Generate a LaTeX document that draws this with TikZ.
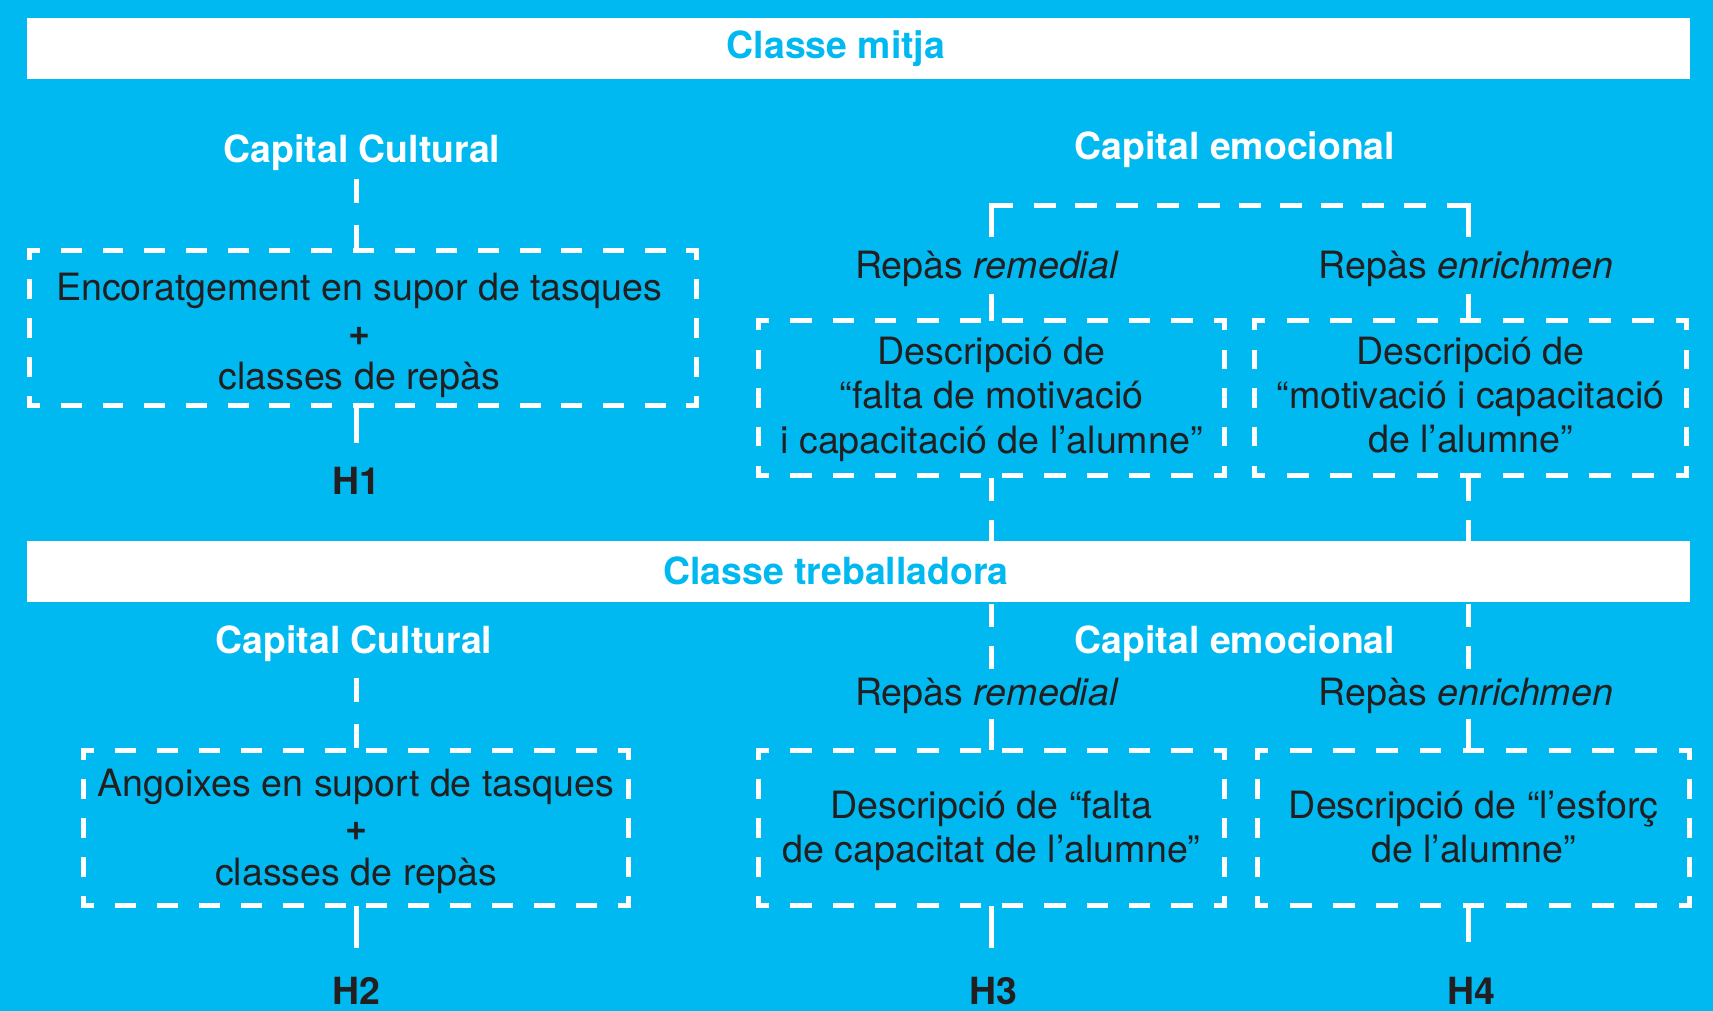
\documentclass[tikz,border=0pt]{standalone}
\usepackage{fontspec}
\setmainfont{TeX Gyre Heros}
\usetikzlibrary{calc}
\definecolor{bgcyan}{RGB}{0,185,241}
\definecolor{ink}{RGB}{35,31,32}
\newcommand\dashedframe[1]{%
  \pgfpointanchor{#1}{south west}\pgfgetlastxy{\dfxa}{\dfya}%
  \pgfpointanchor{#1}{north east}\pgfgetlastxy{\dfxb}{\dfyb}%
  \pgfmathsetmacro\dfw{\dfxb-\dfxa}%
  \pgfmathsetmacro\dfh{\dfyb-\dfya}%
  \pgfmathsetmacro\dfpw{\dfw/max(1,round(\dfw/20.8))}%
  \pgfmathsetmacro\dfph{\dfh/max(1,round(\dfh/20.8))}%
  \pgfmathsetmacro\dfonw{\dfpw/2-2.5}\pgfmathsetmacro\dfoffw{\dfpw/2+2.5}\pgfmathsetmacro\dfphw{\dfpw/4-1.25}%
  \pgfmathsetmacro\dfonh{\dfph/2-2.5}\pgfmathsetmacro\dfoffh{\dfph/2+2.5}\pgfmathsetmacro\dfphh{\dfph/4-1.25}%
  \draw[frameline, dash pattern=on \dfonw pt off \dfoffw pt, dash phase=\dfphw pt]
    (\dfxa,\dfyb) -- (\dfxb,\dfyb) (\dfxa,\dfya) -- (\dfxb,\dfya);
  \draw[frameline, dash pattern=on \dfonh pt off \dfoffh pt, dash phase=\dfphh pt]
    (\dfxa,\dfya) -- (\dfxa,\dfyb) (\dfxb,\dfya) -- (\dfxb,\dfyb);
}
\tikzset{
  headlab/.style={font=\fontsize{18.7}{22}\selectfont\bfseries, text=white, inner sep=0pt, text height=14pt, text depth=4.1pt},
  hyplab/.style={headlab, text=ink},
  barlab/.style={headlab, text=bgcyan},
  replab/.style={font=\fontsize{18.8}{22}\selectfont, text=ink, inner sep=0pt, text height=14pt, text depth=4.1pt},
  boxframe/.style={inner sep=0pt},
  boxtext/.style={inner sep=0pt, align=center, font=\fontsize{18.8}{22.2}\selectfont, text=ink},
  bar/.style={fill=white, inner sep=0pt, minimum width=831.5pt, minimum height=30.6pt},
  conn/.style={draw=white, line width=2.5pt},
  longdash/.style={conn, dash pattern=on 11.5pt off 9.5pt, dash phase=19.5pt},
  ccdash/.style={conn, dash pattern=on 12pt off 11pt},
  frameline/.style={draw=white, line width=2.5pt, line cap=rect},
}
\begin{document}
\begin{tikzpicture}[x=0.5pt,y=-0.5pt]
\fill[bgcyan] (0,0) rectangle (1713,1011);
\useasboundingbox (0,0) rectangle (1713,1011);

\coordinate (ax1) at (356,0);
\coordinate (ax2) at (991.5,0);
\coordinate (ax3) at (1468,0);

% upper part
\node[headlab] (cc1) at (362,152.4) {Capital Cultural};
\node[headlab] (ce1) at (1235,149.4) {Capital emocional};
\node[replab] (rr1) at (987,268.4) {Repàs \textit{remedial}};
\node[replab] (re1) at (1466,268.4) {Repàs \textit{enrichmen}};
\node[boxframe, minimum width=333.25pt, minimum height=77.5pt,
  label={[boxtext, xshift=-2pt, yshift=-3.75pt]center:{Encoratgement en supor de tasques\\\textbf{+}\\classes de repàs}}]
  (b1) at (363.25,328) {};
\node[boxframe, minimum width=232.5pt, minimum height=77pt,
  label={[boxtext, yshift=-0.6pt]center:{Descripció de\\“falta de motivació\\i capacitació de l’alumne”}}]
  (b2) at (991.5,398) {};
\node[boxframe, minimum width=215.5pt, minimum height=77pt,
  label={[boxtext, yshift=1.5pt]center:{Descripció de\\“motivació i capacitació\\de l’alumne”}}]
  (b3) at (1470.5,398) {};
\node[hyplab] (h1) at (356,485) {H1};

% lower part
\node[headlab] (cc2) at (354,643.4) {Capital Cultural};
\node[headlab] (ce2) at (1235,643.4) {Capital emocional};
\node[replab] (rr2) at (987,695.3) {Repàs \textit{remedial}};
\node[replab] (re2) at (1466,695.3) {Repàs \textit{enrichmen}};
\node[boxframe, minimum width=272pt, minimum height=77.5pt,
  label={[boxtext, yshift=-1.5pt]center:{Angoixes en suport de tasques\\\textbf{+}\\classes de repàs}}]
  (b4) at (356,828) {};
\node[boxframe, minimum width=232.5pt, minimum height=77.5pt,
  label={[boxtext, yshift=-1.5pt]center:{Descripció de “falta\\de capacitat de l’alumne”}}]
  (b5) at (991.5,828) {};
\node[boxframe, minimum width=215.5pt, minimum height=77.5pt,
  label={[boxtext, yshift=0.5pt]center:{Descripció de “l’esforç\\de l’alumne”}}]
  (b6) at (1473.5,828) {};
\node[hyplab] (h2) at (356,995) {H2};
\node[hyplab] (h3) at (993,995) {H3};
\node[hyplab] (h4) at (1471,995) {H4};

% dashed frames
\dashedframe{b1}
\dashedframe{b2}
\dashedframe{b3}
\dashedframe{b4}
\dashedframe{b5}
\dashedframe{b6}

% bracket joining the two kinds of repàs
\coordinate (brL) at (ax2 |- 0,205);
\coordinate (brR) at (ax3 |- 0,205);
\draw[conn, shorten <=6.7pt] (ax2 |- rr1.north) -- (brL) -- ++(21,0);
\draw[conn, shorten <=6.7pt] (ax3 |- re1.north) -- (brR) -- ++(-21,0);
\draw[conn, dash pattern=on 11pt off 9.56pt, shorten <=21pt, shorten >=21pt] (brL) -- (brR);

% connectors
\draw[ccdash, shorten <=3.8pt] (ax1 |- cc1.south) -- (ax1 |- b1.north);
\draw[conn, shorten >=12pt] (ax1 |- b1.south) -- (ax1 |- h1.north);
\draw[conn, shorten <=3.3pt] (ax2 |- rr1.south) -- (ax2 |- b2.north);
\draw[conn, shorten <=3.3pt] (ax3 |- re1.south) -- (ax3 |- b3.north);
\draw[longdash, shorten >=3.65pt] (ax2 |- b2.south) -- (ax2 |- rr2.north);
\draw[longdash, shorten >=3.65pt] (ax3 |- b3.south) -- (ax3 |- re2.north);
\draw[conn, shorten <=2.35pt] (ax2 |- rr2.south) -- (ax2 |- b5.north);
\draw[conn, shorten <=2.35pt] (ax3 |- re2.south) -- (ax3 |- b6.north);
\draw[ccdash, shorten <=7.8pt] (ax1 |- cc2.south) -- (ax1 |- b4.north);
\draw[conn, shorten >=14.5pt] (ax1 |- b4.south) -- (ax1 |- h2.north);
\draw[conn, shorten >=14.5pt] (ax2 |- b5.south) -- (ax2 |- h3.north);
\draw[conn, shorten >=17.5pt] (ax3 |- b6.south) -- (ax3 |- h4.north);

% class bars
\node[bar] (bar1) at (858.5,48.35) {};
\node[bar] (bar2) at (858.5,571.2) {};
\node[barlab] (t1) at (836,48.4) {Classe mitja};
\node[barlab] (t2) at (836,575) {Classe treballadora};
\end{tikzpicture}
\end{document}
